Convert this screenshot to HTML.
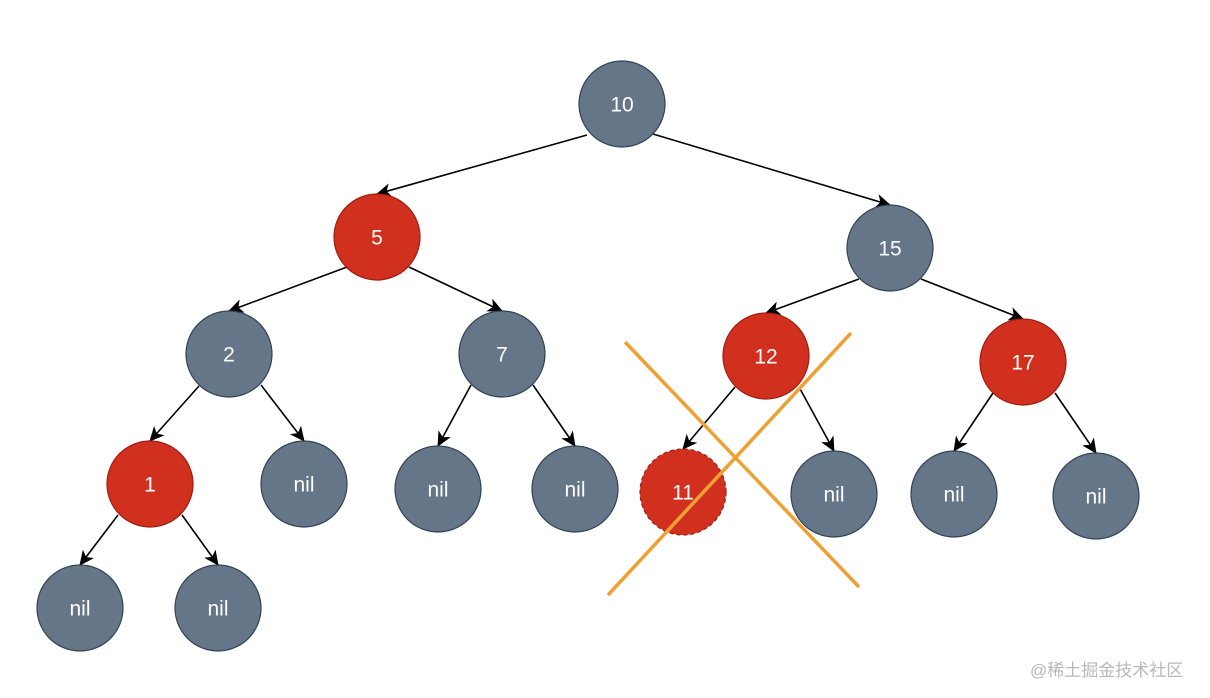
<!DOCTYPE html>
<html><head><meta charset="utf-8">
<style>
html,body{margin:0;padding:0;background:#fff;}
body{width:1210px;height:698px;overflow:hidden;position:relative;}
svg{position:absolute;left:0;top:0;}
.wm{position:absolute;left:1030px;top:656px;font:17px "Liberation Sans","Noto Sans CJK SC",sans-serif;color:#b8b8b8;white-space:nowrap;}
</style></head><body>
<svg id="s" width="1210" height="698" xmlns="http://www.w3.org/2000/svg">
<defs><marker id="a" markerWidth="16" markerHeight="14" refX="14" refY="7" orient="auto" markerUnits="userSpaceOnUse"><path d="M0,0 L15,7 L0,14 L4,7 Z" fill="#000"/></marker></defs>
<g id="e"></g><g id="n"></g>
<line x1="625" y1="342" x2="859" y2="587" stroke="#f0a033" stroke-width="3.5"/>
<line x1="851" y1="333" x2="608" y2="595" stroke="#f0a033" stroke-width="3.5"/>
</svg>
<div class="wm">@稀土掘金技术社区</div>
<script>
var R=43,G='#647687',RD='#d1301e';
var N={
a:[622,104,'10',G],b:[377,237,'5',RD],c:[890,248,'15',G],
d:[229,354,'2',G],e:[502,354,'7',G],f:[766,356,'12',RD],g:[1023,362,'17',RD],
h:[150,484,'1',RD],i:[304,484,'nil',G],j:[438,489,'nil',G],k:[575,489,'nil',G],
l:[683,492,'11',RD,1],m:[834,494,'nil',G],o:[954,494,'nil',G],p:[1096,496,'nil',G],
q:[80,608,'nil',G],r:[218,608,'nil',G]};
var E=[[587,135,'b'],[653,134,'c'],[347,267,'d'],[409,267,'e'],[859,279,'f'],[921,279,'g'],
[199,386,'h'],[261,385,'i'],[471,385,'j'],[533,385,'k'],[735,387,'l'],[799,387,'m'],
[993,393,'o'],[1055,393,'p'],[118,515,'q'],[182,515,'r']];
var ns='http://www.w3.org/2000/svg',ge=document.getElementById('e'),gn=document.getElementById('n');
function el(t,a,p){var x=document.createElementNS(ns,t);for(var k in a)x.setAttribute(k,a[k]);p.appendChild(x);return x;}
E.forEach(function(p){var B=N[p[2]];
el('line',{x1:p[0],y1:p[1],x2:B[0],y2:B[1]-R,stroke:'#000','stroke-width':1.6,'marker-end':'url(#a)'},ge);});
for(var k in N){var v=N[k];
var c=el('circle',{cx:v[0],cy:v[1],r:R,fill:v[3],stroke:v[3]==G?'#314354':'#a01d12','stroke-width':1.2},gn);
if(v[4])c.setAttribute('stroke-dasharray','4 3');
var t=el('text',{x:v[0],y:v[1]+7.5,'text-anchor':'middle',fill:'#fff','font-family':'Liberation Sans, sans-serif','font-size':21},gn);t.textContent=v[2];}
</script>
</body></html>
